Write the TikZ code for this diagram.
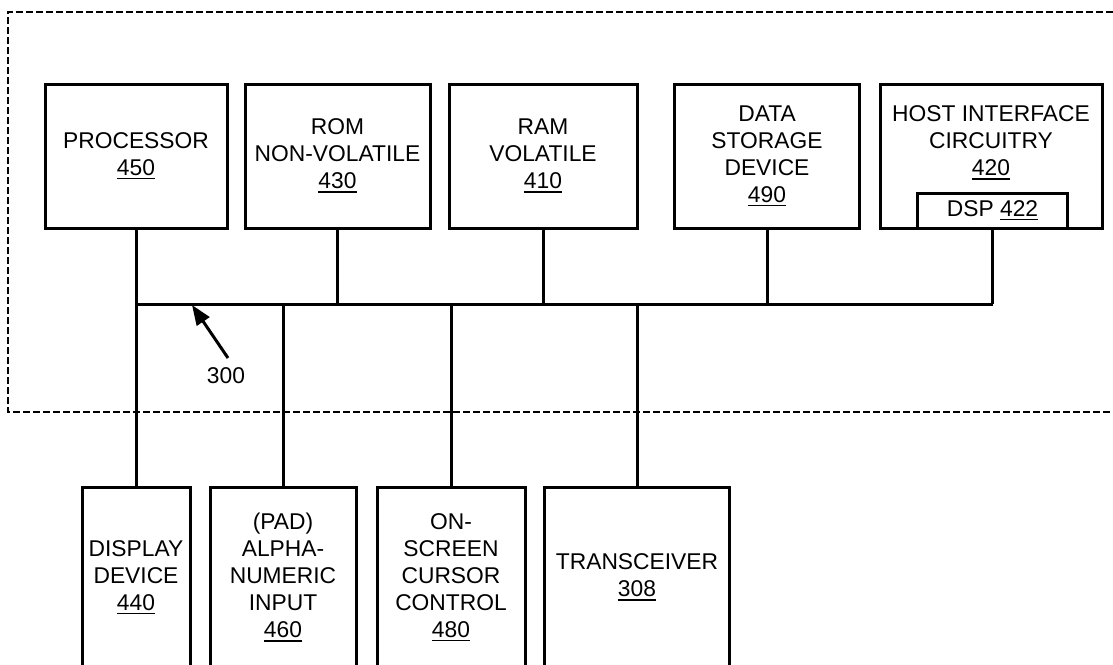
\documentclass[tikz,border=0pt]{standalone}
\usepackage{fontspec}
\setmainfont{Liberation Sans}
\usetikzlibrary{arrows.meta}
\newcommand\uln[1]{\setbox0\hbox{#1}\rlap{\rule[-4pt]{\wd0}{1.8pt}}\box0}
\tikzset{
  box/.style={draw, line width=3pt, inner sep=0pt, align=center, font=\fontsize{22.8}{27}\selectfont},
  lbl/.style={inner sep=0pt, align=center, font=\fontsize{22.8}{27}\selectfont},
  wire/.style={line width=3pt},
  frame/.style={line width=2.4pt, dash pattern=on 7pt off 3pt},
}
\begin{document}
\begin{tikzpicture}[x=1pt,y=-1pt]
\useasboundingbox (0,0) rectangle (1113,664);
\fill[white] (0,0) rectangle (1113,664);
% dashed enclosure (open to the right)
\coordinate (fTR) at (1113,12);
\coordinate (fTL) at (8,12);
\coordinate (fBL) at (8,412);
\coordinate (fBR) at (1113,412);
\draw[frame] (fTR) -- (fTL) -- (fBL) -- (fBR);
% top boxes
\node[box, minimum width=182, minimum height=144] (proc) at (136,156) {PROCESSOR\\\uln{450}};
\node[box, minimum width=185, minimum height=144] (rom) at (337.5,156) {ROM\\NON-VOLATILE\\\uln{430}};
\node[box, minimum width=188, minimum height=144] (ram) at (543,156) {RAM\\VOLATILE\\\uln{410}};
\node[box, minimum width=185, minimum height=144] (data) at (767,156) {DATA\\STORAGE\\DEVICE\\\uln{490}};
\node[box, minimum width=222, minimum height=144] (host) at (991,156) {};
\node[lbl] (hostlbl) at (991,143) {HOST INTERFACE\\CIRCUITRY\\\uln{420}};
\node[box, minimum width=150, minimum height=35] (dsp) at (992.5,210.5) {DSP \uln{422}};
% bottom boxes
\node[box, minimum width=108, minimum height=181] (disp) at (136,577.5) {DISPLAY\\DEVICE\\\uln{440}};
\node[box, minimum width=146, minimum height=181] (alpha) at (283,577.5) {(PAD)\\ALPHA-\\NUMERIC\\INPUT\\\uln{460}};
\node[box, minimum width=148, minimum height=181] (cursor) at (451,577.5) {ON-\\SCREEN\\CURSOR\\CONTROL\\\uln{480}};
\node[box, minimum width=185, minimum height=181] (trans) at (637,577.5) {TRANSCEIVER\\\uln{308}};
% bus
\coordinate (bus) at (0,304);
\draw[wire] (proc.south |- bus) -- (dsp.south |- bus);
\draw[wire] (proc.south) -- (disp.north);
\draw[wire] (rom.south) -- (rom.south |- bus);
\draw[wire] (ram.south) -- (ram.south |- bus);
\draw[wire] (data.south) -- (data.south |- bus);
\draw[wire] (dsp.south) -- (dsp.south |- bus);
\draw[wire] (alpha.north |- bus) -- (alpha.north);
\draw[wire] (cursor.north |- bus) -- (cursor.north);
\draw[wire] (trans.north |- bus) -- (trans.north);
% reference label
\node[lbl] (n300) at (226,376) {300};
\coordinate (tip300) at (192,305);
\coordinate (tail300) at (228,358);
\draw[line width=3pt, -{Triangle[length=20pt,width=15pt]}] (tail300) -- (tip300);
\end{tikzpicture}
\end{document}
